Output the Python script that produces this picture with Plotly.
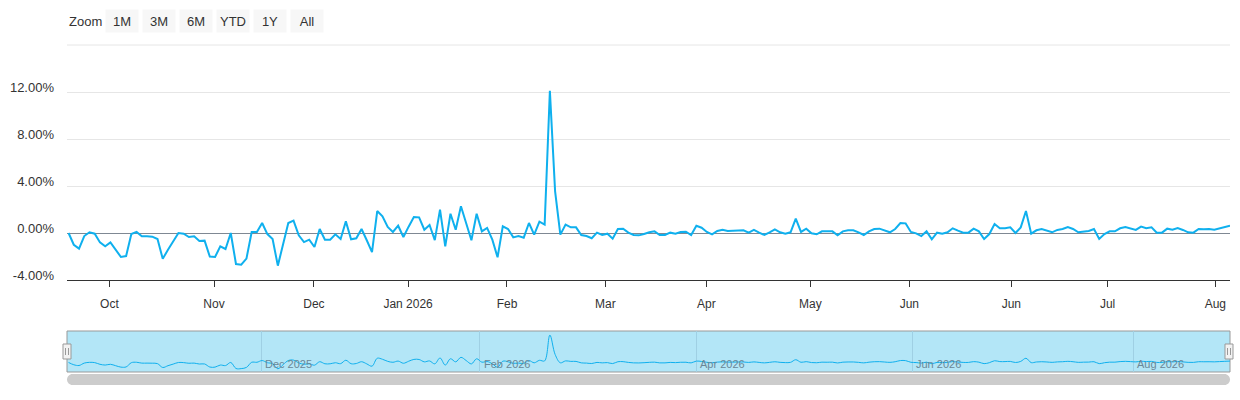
import plotly.graph_objects as go

# Data (one point per trading session)
# ~~~~~~~~~~~~~~~~~~~~~~~~~~~~~~~~~~~~~~~~~~~~~~~~~~~~~~~~~~~~~~~~~~~~~~~~~~~~~~~~~~~~~~~~
VALUES = [
    0, -1.0, -1.33, -0.26, 0.06, -0.06, -0.8, -1.13, -0.8, -1.42,
    -2.04, -1.96, -0.09, 0.09, -0.28, -0.28, -0.31, -0.51, -2.2, -1.42,
    -0.71, 0, -0.06, -0.34, -0.28, -0.68, -0.65, -2.01, -2.04, -1.13,
    -1.36, 0,
    -2.64, -2.7, -2.18, 0.09, 0.09, 0.85, -0.09, -0.51, -2.78, -0.94,
    0.85, 1.05, -0.2, -0.77, -0.57, -1.19, 0.34, -0.57, -0.57, -0.11,
    -0.51, 0.99, -0.54, -0.45, 0.34, -0.62, -1.62, 1.87, 1.42, 0.51,
    0.09, 0.62,
    -0.34, 0.54, 1.36, 1.33, 0.28, 0.68, -0.6, 1.99, -1.14, 1.64,
    0.28, 2.27, 0.85, -0.62, 1.64, 0.14, 0.43, -0.57, -2.07, 0.57,
    0.34, -0.37, -0.26, -0.4, 0.85, -0.14, 0.96, 0.71, 12.1, 3.55,
    -0.14,
    0.71, 0.48, 0.48, -0.17, -0.26, -0.45, 0.03, -0.17, -0.06, -0.48,
    0.34, 0.37, 0.03, -0.17, -0.2, -0.09, 0.06, 0.14, -0.17, -0.17,
    0.03, -0.06, 0.09, 0.11, -0.17, 0.62, 0.45, 0.09, -0.11, 0.17,
    0.28, 0.17,
    0.17, 0.23, 0.23, 0.03, 0.26, 0.03, -0.17, 0.06, 0.31, 0.06,
    -0.06, 0.06, 1.22, 0.09, 0.37, -0.03, -0.11, 0.14, 0.11, 0.14,
    -0.2, 0.14, 0.23, 0.23, 0.06, -0.17, 0.14, 0.34, 0.37, 0.2,
    0.06, 0.34,
    0.85, 0.82, 0.09, -0.03, -0.26, 0.14, -0.54, 0.03, -0.06, 0.06,
    0.4, 0.2, 0.03, 0.03, 0.37, 0.14, -0.51, -0.09, 0.77, 0.4,
    0.4, 0.48, 0, 0.48, 1.87, -0.06, 0.23, 0.34, 0.23, 0.06,
    0.26, 0.34,
    0.51, 0.34, 0.06, 0.14, 0.17, 0.34, -0.51, -0.09, 0.14, 0.14,
    0.4, 0.51, 0.4, 0.26, 0.54, 0.4, 0.48, 0.03, 0.03, 0.37,
    0.28, 0.43, 0.26, 0.06, 0.03, 0.34, 0.31, 0.34, 0.28, 0.4,
    0.51, 0.62,
]
X_INDEX = list(range(len(VALUES)))

# ordinal axis: ticks sit on session indices
X_TICK_POS = [7.8, 27.8, 46.9, 64.9, 83.8, 102.6, 121.9, 141.8, 160.7, 180.2, 198.6, 219.2]
X_TICK_LABELS = ["Oct", "Nov", "Dec", "Jan 2026", "Feb", "Mar", "Apr", "May", "Jun", "Jun", "Jul", "Aug"]

Y_TICKS = [-4, 0, 4, 8, 12, 16]
Y_TICK_LABELS = ["-4.00%", "0.00%", "4.00%", "8.00%", "12.00%", ""]

NAV_TICK_POS = [36.8, 78.6, 120.0, 161.3, 203.5]
NAV_TICK_LABELS = ["Dec 2025", "Feb 2026", "Apr 2026", "Jun 2026", "Aug 2026"]

BUTTONS = ["1M", "3M", "6M", "YTD", "1Y", "All"]

# Layout helpers
# ~~~~~~~~~~~~~~~~~~~~~~~~~~~~~~~~~~~~~~~~~~~~~~~~~~~~~~~~~~~~~~~~~~~~~~~~~~~~~~~~~~~~~~~~
W, H = 1240, 400
ML, MR, MT, MB = 67, 10, 45, 14
FONT = "Liberation Sans, Arial, sans-serif"
LINE_COLOUR = "#0fb0ee"


def px_x(px):
    return (px - ML) / (W - ML - MR)


def px_y(px):
    return (H - MB - px) / (H - MT - MB)


fig = go.Figure()

fig.add_trace(go.Scatter(
    x=X_INDEX, y=VALUES, mode="lines",
    line={"color": LINE_COLOUR, "width": 2},
    xaxis="x", yaxis="y", hoverinfo="skip",
))

fig.add_trace(go.Scatter(
    x=X_INDEX, y=VALUES, mode="lines",
    line={"color": LINE_COLOUR, "width": 1, "shape": "spline", "smoothing": 1.0},
    xaxis="x2", yaxis="y2", hoverinfo="skip",
))

fig.update_layout(
    width=W, height=H,
    margin={"l": ML, "r": MR, "t": MT, "b": MB},
    paper_bgcolor="white",
    plot_bgcolor="white",
    showlegend=False,
    font={"family": FONT, "color": "#333333", "size": 12},
    xaxis={
        "domain": [0, 1],
        "anchor": "y",
        "range": [-0.3, 222],
        "tickmode": "array",
        "tickvals": X_TICK_POS,
        "ticktext": X_TICK_LABELS,
        "ticks": "outside",
        "ticklen": 6,
        "tickcolor": "#333333",
        "showline": True,
        "linecolor": "#333333",
        "linewidth": 1,
        "showgrid": False,
        "zeroline": False,
        "tickfont": {"size": 12, "color": "#333333"},
        "ticklabelstandoff": 7,
    },
    yaxis={
        "domain": [px_y(280), 1],
        "anchor": "x",
        "range": [-4, 16],
        "tickmode": "array",
        "tickvals": Y_TICKS,
        "ticktext": Y_TICK_LABELS,
        "showgrid": True,
        "gridcolor": "#e6e6e6",
        "gridwidth": 1,
        "zeroline": True,
        "zerolinecolor": "#7f8893",
        "zerolinewidth": 1,
        "showline": False,
        "tickfont": {"size": 13, "color": "#333333"},
        "ticklabelstandoff": 12,
        "ticklabelshift": -5,
    },
    xaxis2={
        "domain": [0, 1],
        "anchor": "y2",
        "range": [-0.3, 222],
        "tickmode": "array",
        "tickvals": NAV_TICK_POS,
        "showticklabels": False,
        "showgrid": True,
        "gridcolor": "#9fd0e4",
        "zeroline": False,
        "showline": False,
    },
    yaxis2={
        "domain": [px_y(372), px_y(331)],
        "anchor": "x2",
        "range": [-4.2, 13.9],
        "showgrid": False,
        "zeroline": False,
        "showticklabels": False,
    },
)

# rounded scrollbar track, in pixels around its centre line
SB_W, SB_R = W - ML - MR, 5.5
scroll_path = (
    f"M {SB_R},{-SB_R} L {SB_W - SB_R},{-SB_R} "
    f"C {SB_W - 2.5},{-SB_R} {SB_W},{-3} {SB_W},0 "
    f"C {SB_W},3 {SB_W - 2.5},{SB_R} {SB_W - SB_R},{SB_R} "
    f"L {SB_R},{SB_R} C 2.5,{SB_R} 0,3 0,0 C 0,-3 2.5,{-SB_R} {SB_R},{-SB_R} Z"
)

# top grid line, navigator mask, outline, handles and scrollbar
shapes = [
    dict(type="line", xref="x domain", yref="y domain", x0=0, x1=1, y0=1, y1=1,
         line={"color": "#e6e6e6", "width": 1}, layer="below"),
    dict(type="rect", xref="x2 domain", yref="y2 domain", x0=0, x1=1, y0=0, y1=1,
         fillcolor="#b3e6f7", line={"color": "#999999", "width": 1}, layer="below"),
    dict(type="path", xref="paper", yref="paper", xsizemode="pixel", ysizemode="pixel",
         xanchor=0, yanchor=px_y(379.5), path=scroll_path,
         fillcolor="#cccccc", line={"width": 0}),
]
for edge in (67, 1229):
    shapes.append(dict(type="rect", xref="paper", yref="paper",
                       x0=px_x(edge - 4), x1=px_x(edge + 4), y0=px_y(359), y1=px_y(344),
                       fillcolor="#f2f2f2", line={"color": "#999999", "width": 1}))
    for dx in (-1.5, 1.5):
        shapes.append(dict(type="line", xref="paper", yref="paper",
                           x0=px_x(edge + dx), x1=px_x(edge + dx), y0=px_y(355), y1=px_y(348),
                           line={"color": "#999999", "width": 1}))

annotations = [
    dict(text="Zoom", xref="paper", yref="paper", x=px_x(67), y=px_y(21),
         xanchor="left", yanchor="middle", showarrow=False,
         font={"size": 13, "color": "#333333"}),
]
for i, label in enumerate(BUTTONS):
    annotations.append(dict(
        text=label, xref="paper", yref="paper", x=px_x(122 + 37 * i), y=px_y(21),
        xanchor="center", yanchor="middle", showarrow=False,
        width=30, height=20, bgcolor="#f7f7f7", borderpad=1,
        font={"size": 13, "color": "#333333"},
    ))
for pos, label in zip(NAV_TICK_POS, NAV_TICK_LABELS):
    annotations.append(dict(
        text=label, xref="x2", yref="paper", x=pos, y=px_y(364),
        xanchor="left", yanchor="middle", xshift=2, showarrow=False,
        font={"size": 11, "color": "#6a8796"},
    ))

fig.update_layout(shapes=shapes, annotations=annotations)

# drop the browser's default body margin so the figure sits at the page origin
fig.write_html(
    "out.html",
    config={"displayModeBar": False},
    post_script="document.body.style.margin='0px';",
)
